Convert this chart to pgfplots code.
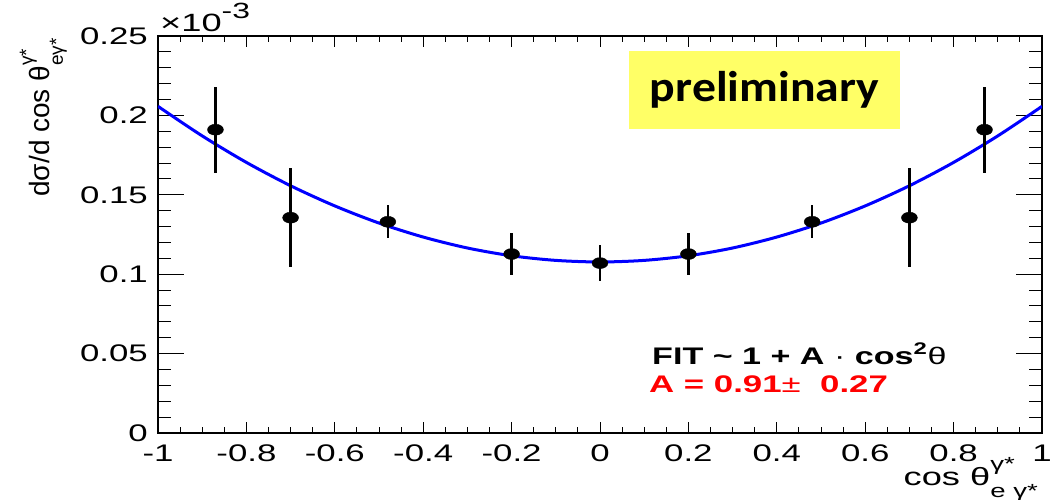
\documentclass[border=0pt]{standalone}
\usepackage{fontspec}
\setmainfont{Liberation Sans}
\newfontfamily\carlito{Carlito}
\usepackage{graphicx}
\usepackage{pgfplots}
\usepackage{pgfplotstable}
\pgfplotsset{compat=1.18}
\newcommand\sx[1]{\scalebox{1.45}[1]{#1}}
\definecolor{rootblue}{RGB}{0,0,255}
\definecolor{prelimyellow}{RGB}{255,255,102}
\definecolor{rootred}{RGB}{255,0,0}

\pgfplotstableread{
x y e
-0.87 0.191 0.027
-0.70 0.1356 0.031
-0.48 0.133 0.0105
-0.20 0.1127 0.013
0.00 0.107 0.0115
0.20 0.1127 0.013
0.48 0.133 0.0105
0.70 0.1356 0.031
0.87 0.191 0.027
}\datatable

\pgfplotstableread{
x y
-1.0 0.2057
-0.9 0.1871
-0.8 0.1704
-0.7 0.1557
-0.6 0.1430
-0.5 0.1322
-0.4 0.1234
-0.3 0.1165
-0.2 0.1116
-0.1 0.1087
0.0 0.1077
0.1 0.1087
0.2 0.1116
0.3 0.1165
0.4 0.1234
0.5 0.1322
0.6 0.1430
0.7 0.1557
0.8 0.1704
0.9 0.1871
1.0 0.2057
}\fittable

\pgfplotsset{
  rootframe/.style={
    scale only axis, width=884pt, height=397pt,
    xmin=-1, xmax=1, ymin=0, ymax=0.25,
    axis line style={line width=2pt, black},
    tick align=inside,
    tick style={line width=1pt, black},
    tick label style={font=\fontsize{24}{28}\selectfont},
  }
}

\begin{document}
\begin{tikzpicture}
\useasboundingbox (-158pt,-66pt) rectangle (892pt,433pt);
% x-axis ticks
\begin{axis}[rootframe,
  ytick=\empty,
  xtick={-1,-0.8,-0.6,-0.4,-0.2,0,0.2,0.4,0.6,0.8,1},
  xticklabels={\sx{-1},\sx{-0.8},\sx{-0.6},\sx{-0.4},\sx{-0.2},\sx{0},\sx{0.2},\sx{0.4},\sx{0.6},\sx{0.8},\sx{1}},
  minor x tick num=3,
  major tick length=11pt, minor tick length=6pt,
  xticklabel style={anchor=north, inner sep=0pt, yshift=-12pt},
]
\end{axis}
% y-axis ticks and data
\begin{axis}[rootframe,
  xtick=\empty,
  ytick={0,0.05,0.1,0.15,0.2,0.25},
  yticklabels={\sx{0},\sx{0.05},\sx{0.1},\sx{0.15},\sx{0.2},\sx{0.25}},
  minor y tick num=4,
  major tick length=26pt, minor tick length=13pt,
  yticklabel style={anchor=east, inner sep=0pt, xshift=-10pt},
]
\addplot[rootblue, line width=3pt, smooth, no marks] table[x=x, y=y] {\fittable};
\addplot[black, only marks, mark=*, mark size=5.5pt,
  mark options={xscale=1.45, fill=black},
  error bars/.cd, y dir=both, y explicit, error mark=none,
  error bar style={line width=2.5pt, black}]
  table[x=x, y=y, y error=e] {\datatable};
\end{axis}

% x10^-3
\node[anchor=base west, inner sep=0pt, font=\fontsize{25}{28}\selectfont] at (2pt,401pt)
  {\sx{×10\raisebox{13pt}{\fontsize{22}{24}\selectfont -3}}};
% y label
\node[anchor=base east, inner sep=0pt, rotate=90, font=\fontsize{28}{31}\selectfont] at (-108pt,395pt)
  {dσ/d cos θ\rlap{\raisebox{17pt}{\fontsize{19}{20}\selectfont γ*}}\raisebox{-13pt}{\fontsize{19}{20}\selectfont eγ*}};
% x label
\node[anchor=base east, inner sep=0pt, font=\fontsize{25}{28}\selectfont] at (880pt,-52pt)
  {\sx{cos θ\rlap{\raisebox{15pt}{\fontsize{19}{20}\selectfont γ*}}\raisebox{-12pt}{\fontsize{19}{20}\selectfont e γ*}}};
% preliminary box
\fill[prelimyellow] (471pt,304pt) rectangle (742pt,382pt);
\node[font=\carlito\bfseries\fontsize{43}{50}\selectfont, inner sep=0pt] at (606.5pt,343pt) {\scalebox{1.11}[1]{preliminary}};
% fit text
\node[anchor=base west, inner sep=0pt, font=\bfseries\fontsize{24}{28}\selectfont] at (494pt,69pt)
  {\scalebox{1.42}[1]{FIT \textasciitilde{} 1 + A {\mdseries·} cos\textsuperscript{2}{\mdseries θ}}};
\node[anchor=base west, inner sep=0pt, text=rootred, font=\bfseries\fontsize{24}{28}\selectfont] at (491pt,41pt)
  {\scalebox{1.45}[1]{A = 0.91{\mdseries ±}\ \ 0.27}};
\end{tikzpicture}
\end{document}
